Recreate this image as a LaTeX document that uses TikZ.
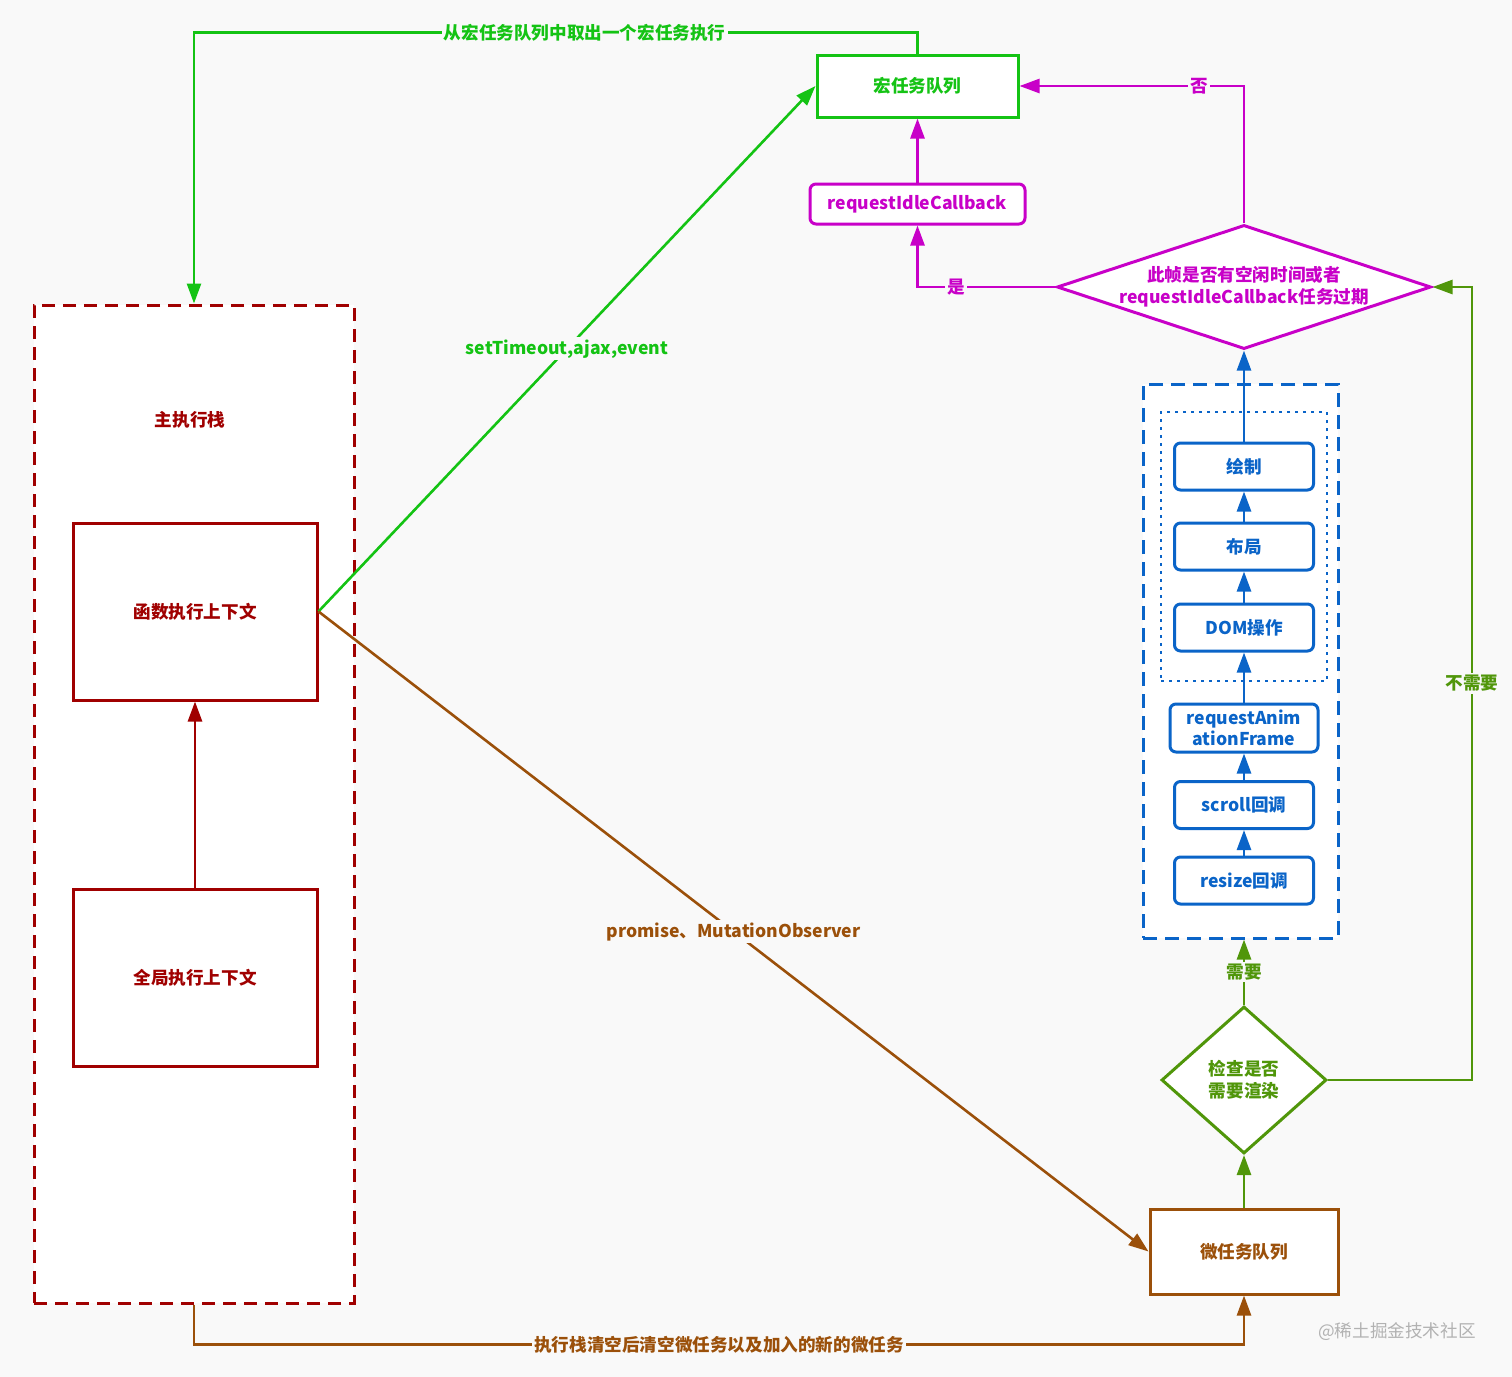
\documentclass[tikz,border=0pt]{standalone}
\usepackage{fontspec}
\setmainfont{Noto Sans CJK SC}
\usetikzlibrary{shapes.geometric,arrows.meta}

\definecolor{stackred}{RGB}{160,0,0}
\definecolor{macrogreen}{RGB}{20,195,20}
\definecolor{idlemag}{RGB}{200,0,200}
\definecolor{renderblue}{RGB}{10,100,200}
\definecolor{checkgreen}{RGB}{80,150,10}
\definecolor{microbrown}{RGB}{155,80,10}
\definecolor{bgcol}{RGB}{249,249,249}

\begin{document}
\begin{tikzpicture}[x=0.5pt,y=-0.5pt,
  font=\fontsize{8.8pt}{11pt}\selectfont\bfseries,
  box/.style={draw=#1,text=#1,fill=white,line width=1.5pt,inner sep=0pt},
  rbox/.style={box=renderblue,rounded corners=3pt,minimum width=69.5pt,minimum height=23.5pt},
  arr/.style={draw=#1,line width=1.3pt,-{Triangle[length=10pt,width=7pt]}},
  lbl/.style={text=#1,fill=bgcol,inner sep=1pt}]

\fill[bgcol] (0,0) rectangle (1512,1377);
\useasboundingbox (0,0) rectangle (1512,1377);

% main stack
\node[box=stackred,dash pattern=on 6.5pt off 4pt,minimum width=160pt,minimum height=499pt] (stack) at (194,804) {};
\node[text=stackred] (stacklbl) at (190,420) {主执行栈};
\node[box=stackred,minimum width=122pt,minimum height=88.5pt] (func) at (195,611.5) {函数执行上下文};
\node[box=stackred,minimum width=122pt,minimum height=88.5pt] (global) at (195,977.5) {全局执行上下文};
\draw[arr=stackred] (global) -- (func);

% macro tasks and idle callback
\node[box=macrogreen,minimum width=100.5pt,minimum height=31pt] (macro) at (917.5,86) {宏任务队列};
\node[box=idlemag,rounded corners=3pt,minimum width=107.5pt,minimum height=20pt] (ric) at (917.5,204) {requestIdleCallback};
\node[box=idlemag,diamond,shape aspect=3,minimum width=187pt,minimum height=61.5pt,align=center] (idle) at (1244,287) {此帧是否有空闲时间或者\\requestIdleCallback任务过期};

% rendering steps
\node[box=renderblue,dash pattern=on 7pt off 4pt,minimum width=97.5pt,minimum height=277pt] (render) at (1240.5,661) {};
\node[draw=renderblue,line width=1.4pt,dash pattern=on 1.4pt off 2.6pt,minimum width=83pt,minimum height=134.5pt] (dots) at (1244,546.5) {};
\node[rbox] (paint) at (1244,466.5) {绘制};
\node[rbox] (layout) at (1244,546.5) {布局};
\node[rbox] (dom) at (1244,627.5) {DOM操作};
\node[rbox,minimum width=74pt,minimum height=24pt,align=center] (raf) at (1244,728) {requestAnim\\[-0.5pt]ationFrame};
\node[rbox] (scroll) at (1244,805) {scroll回调};
\node[rbox] (resize) at (1244,880.5) {resize回调};

\draw[arr=renderblue] (resize) -- (scroll);
\draw[arr=renderblue] (scroll) -- (raf);
\draw[arr=renderblue] (raf) -- (dom);
\draw[arr=renderblue] (dom) -- (layout);
\draw[arr=renderblue] (layout) -- (paint);
\draw[arr=renderblue] (paint) -- (idle);

% check and micro tasks
\node[box=checkgreen,diamond,minimum width=82.5pt,minimum height=73.5pt,align=center] (check) at (1244,1080) {检查是否\\需要渲染};
\node[box=microbrown,minimum width=94pt,minimum height=42.5pt] (micro) at (1244,1251.5) {微任务队列};

\draw[arr=checkgreen] (micro) -- (check);
\draw[arr=checkgreen] (check) -- node[lbl=checkgreen]{需要} (check.north |- render.south);
\draw[arr=checkgreen] (check.east) -- ++(144,0) |- node[lbl=checkgreen,pos=0.25]{不需要} (idle.east);

\draw[arr=idlemag] (ric) -- (macro);
\draw[arr=idlemag] (idle.west) -| node[lbl=idlemag,pos=0.36]{是} (ric.south);
\draw[arr=idlemag] (idle.north) |- node[lbl=idlemag,pos=0.6]{否} (macro.east);

\draw[arr=macrogreen] (func.east) -- node[lbl=macrogreen]{setTimeout,ajax,event} (macro.west);
\draw[arr=macrogreen] (macro.north) -- ++(0,-21) -| node[lbl=macrogreen,pos=0.23]{从宏任务队列中取出一个宏任务执行} (stack.north);

\draw[arr=microbrown] (func.east) -- node[lbl=microbrown]{promise、MutationObserver} (micro.west);
\draw[arr=microbrown] (stack.south) -- ++(0,40) -| node[lbl=microbrown,pos=0.25]{执行栈清空后清空微任务以及加入的新的微任务} (micro.south);

\node[text=black!30,font=\fontsize{8.8pt}{11pt}\selectfont] (mark) at (1397,1332) {@稀土掘金技术社区};

\end{tikzpicture}
\end{document}
